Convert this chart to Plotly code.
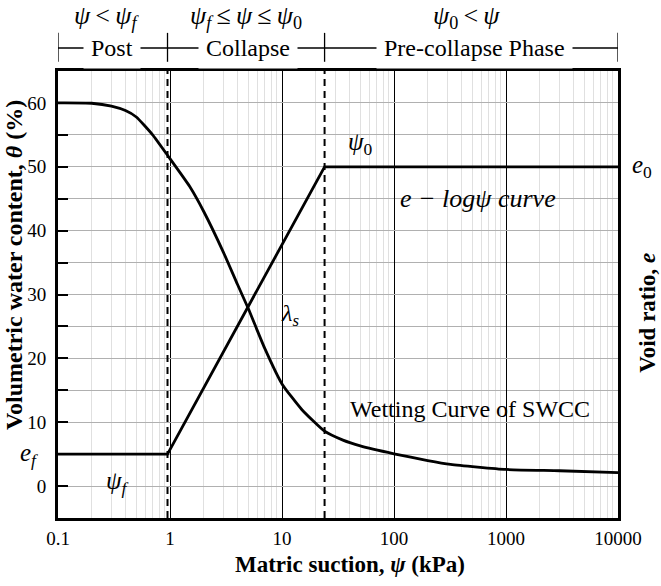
import math
import plotly.graph_objects as go

# ---- data ----
swcc_psi = [0.1, 0.2, 0.3, 0.4, 0.5, 0.7, 0.95, 1.5, 2, 3, 4, 5, 7, 10, 15, 24, 35, 50, 100, 200, 320, 1000, 3000, 10000]
swcc_theta = [60, 59.95, 59.5, 58.8, 57.8, 55.0, 51.8, 46.9, 43.0, 36.6, 31.6, 27.8, 21.6, 16.0, 12.0, 8.6, 7.2, 6.3, 5.06, 4.0, 3.4, 2.6, 2.4, 2.1]

psi_f = 0.95
psi_0 = 24
e_f = 5
e_0 = 50
elog_psi = [0.1, psi_f, psi_0, 10000]
elog_e = [e_f, e_f, e_0, e_0]

x_tickvals = [0.1, 1, 10, 100, 1000, 10000]
x_ticktext = ["0.1", "1", "10", "100", "1000", "10000"]
y_tickvals = [0, 10, 20, 30, 40, 50, 60]
y_minor = [5, 15, 25, 35, 45, 55]
x_minor = [k * 10 ** n for n in range(-1, 4) for k in range(2, 10)]

Y_RANGE = [-5, 65]
SERIF = "Liberation Serif"

fig = go.Figure()

fig.add_trace(go.Scatter(x=swcc_psi, y=swcc_theta, mode="lines",
                         line=dict(color="black", width=2.8, shape="spline", smoothing=0.5),
                         showlegend=False, hoverinfo="skip"))
fig.add_trace(go.Scatter(x=elog_psi, y=elog_e, mode="lines",
                         line=dict(color="black", width=2.8),
                         showlegend=False, hoverinfo="skip"))
for p in (psi_f, psi_0):
    fig.add_trace(go.Scatter(x=[p, p], y=Y_RANGE, mode="lines",
                             line=dict(color="black", width=2, dash="7px,5px"),
                             showlegend=False, hoverinfo="skip"))

fig.update_layout(
    width=661, height=586,
    margin=dict(l=58, r=43, t=71, b=68),
    paper_bgcolor="white", plot_bgcolor="white",
    font=dict(family=SERIF, color="black"),
    xaxis=dict(type="log", range=[-1, 4], tickmode="array", tickvals=x_tickvals, ticktext=x_ticktext,
               showgrid=True, gridcolor="black", gridwidth=1,
               minor=dict(tickmode="array", tickvals=x_minor, showgrid=True, gridcolor="#e0e0e0", gridwidth=1, ticks=""),
               ticks="", showline=True, linecolor="black", linewidth=3, mirror=True,
               tickfont=dict(size=19, family=SERIF), ticklabelstandoff=1,
               automargin=False, zeroline=False),
    yaxis=dict(range=Y_RANGE, tickmode="array", tickvals=y_tickvals,
               showgrid=True, gridcolor="#b0b0b0", gridwidth=1,
               ticks="inside", ticklen=10, tickwidth=2, tickcolor="black",
               minor=dict(tickmode="array", tickvals=y_minor, showgrid=True, gridcolor="#b0b0b0", gridwidth=1,
                          ticks="inside", ticklen=10, tickwidth=2, tickcolor="black"),
               showline=True, linecolor="black", linewidth=3, mirror=True,
               tickfont=dict(size=19, family=SERIF), ticklabelstandoff=5,
               automargin=False, zeroline=False),
)

# axis titles
fig.add_annotation(xref="paper", yref="paper", x=0.522, y=-0.1044, showarrow=False,
                   xanchor="center", yanchor="middle",
                   text="<b>Matric suction, <i>ψ</i> (kPa)</b>", font=dict(size=23))
fig.add_annotation(xref="paper", yref="paper", x=-0.0774, y=0.565, showarrow=False, textangle=-90,
                   xanchor="center", yanchor="middle",
                   text="<b>Volumetric water content, <i>θ</i> (%)</b>", font=dict(size=24))
fig.add_annotation(xref="paper", yref="paper", x=1.0525, y=0.460, showarrow=False, textangle=-90,
                   xanchor="center", yanchor="middle",
                   text="<b>Void ratio, <i>e</i></b>", font=dict(size=23))

# header brackets
fig.add_shape(type="line", xref="x", yref="paper", x0=0.1, x1=10000, y0=1.0514, y1=1.0514,
              line=dict(color="black", width=1.3))
for p in (0.1, psi_f, psi_0, 10000):
    fig.add_shape(type="line", xref="x", yref="paper", x0=p, x1=p,
                  y0=1.0206, y1=1.0853, line=dict(color="black", width=1.3))

hdr = dict(xref="paper", yref="paper", showarrow=False, yanchor="middle", xanchor="center")
fig.add_annotation(x=0.096, y=1.0514, text="Post", bgcolor="white", borderpad=7, font=dict(size=24), **hdr)
fig.add_annotation(x=0.339, y=1.0514, text="Collapse", bgcolor="white", borderpad=7, font=dict(size=24), **hdr)
fig.add_annotation(x=0.744, y=1.0514, text="Pre-collapse Phase", bgcolor="white", borderpad=7, font=dict(size=24), **hdr)
row1_y = 1.121
fig.add_annotation(x=0.0867, y=row1_y, text="<i>ψ</i>\u2009<\u2009<i>ψ<sub>f</sub></i>", font=dict(size=26), **hdr)
fig.add_annotation(x=0.3355, y=row1_y, text="<i>ψ<sub>f</sub></i>\u2009≤\u2009<i>ψ</i>\u2009≤\u2009<i>ψ</i><sub>0</sub>", font=dict(size=26), **hdr)
fig.add_annotation(x=0.7288, y=row1_y, text="<i>ψ</i><sub>0</sub>\u2009<\u2009<i>ψ</i>", font=dict(size=26), **hdr)

# inner labels
inner = dict(xref="x", yref="y", showarrow=False, xanchor="center", yanchor="middle")
fig.add_annotation(x=math.log10(50), y=53.7, text="<i>ψ</i><sub>0</sub>", font=dict(size=25), **inner)
fig.add_annotation(x=2.75, y=45.1, text="<i>e − logψ curve</i>", font=dict(size=26), **inner)
fig.add_annotation(x=math.log10(11.8), y=26.8, text="<i>λ<sub>s</sub></i>", font=dict(size=24), **inner)
fig.add_annotation(x=2.68, y=12, text="Wetting Curve of SWCC", font=dict(size=24), **inner)
fig.add_annotation(x=math.log10(0.342), y=0.6, text="<i>ψ<sub>f</sub></i>", font=dict(size=25), **inner)
fig.add_annotation(xref="paper", yref="y", x=1.043, y=e_0, text="<i>e</i><sub>0</sub>", showarrow=False,
                   xanchor="center", yanchor="middle", font=dict(size=25))
fig.add_annotation(xref="paper", yref="y", x=-0.051, y=e_f, text="<i>e<sub>f</sub></i>", showarrow=False,
                   xanchor="center", yanchor="middle", font=dict(size=25))

# remove the default 8px page margin so the 661x586 figure fills the window exactly
fig.write_html("out.html", config={"displayModeBar": False},
               post_script="document.body.style.margin='0px';document.body.style.overflow='hidden';")
